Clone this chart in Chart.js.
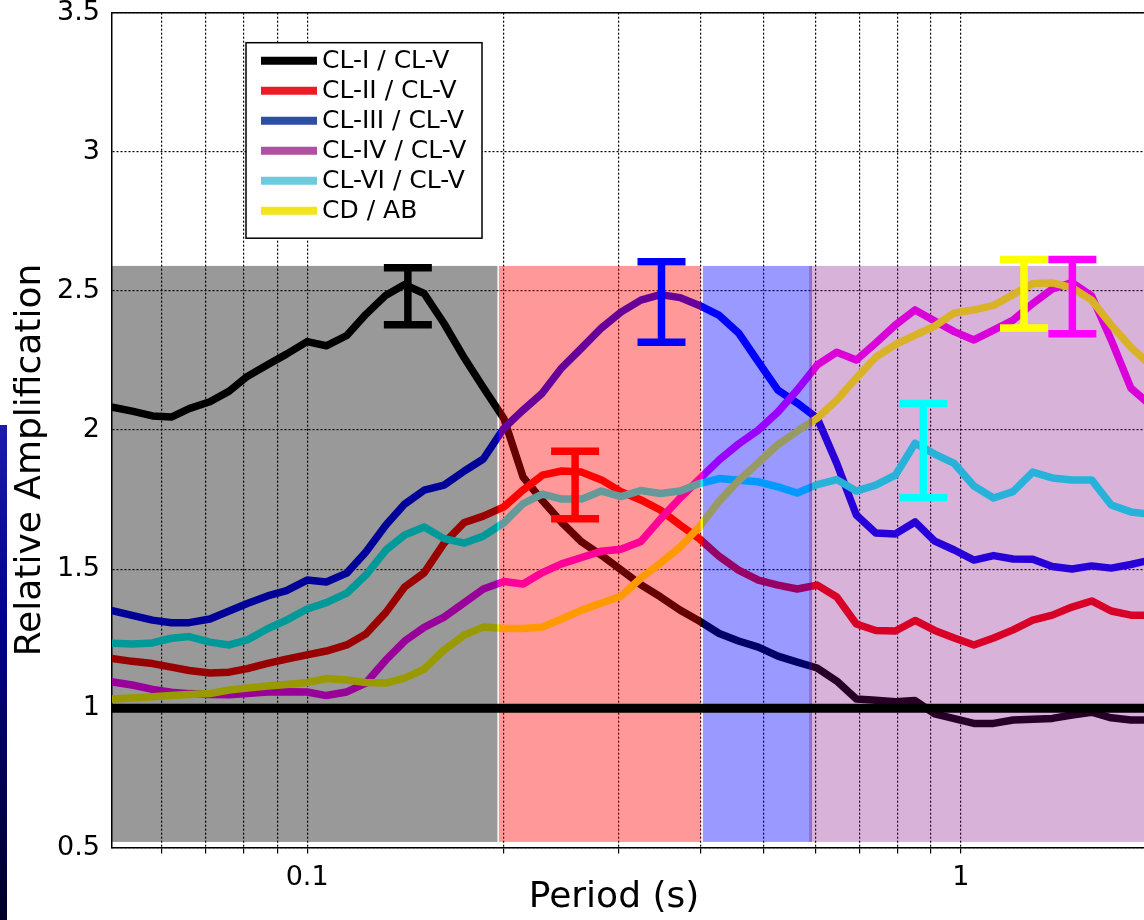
<!DOCTYPE html>
<html>
<head>
<meta charset="utf-8">
<title>Relative Amplification vs Period</title>
<script src="https://cdn.jsdelivr.net/npm/chart.js@4.4.1/dist/chart.umd.min.js"></script>
<style>
  html, body { margin: 0; padding: 0; background: #ffffff; overflow: hidden; }
  #wrap { position: relative; width: 1144px; height: 920px; }
  canvas { display: block; }
</style>
</head>
<body>
<div id="wrap"><canvas id="chart" width="1144" height="920"></canvas></div>
<script>
// ---- data -------------------------------------------------------------
// Periods (s), log-spaced
const periods = [0.050, 0.054, 0.058, 0.062, 0.066, 0.071, 0.076, 0.081, 0.087, 0.093,
                 0.100, 0.107, 0.115, 0.123, 0.132, 0.141, 0.151, 0.162, 0.174, 0.186,
                 0.200, 0.214, 0.229, 0.245, 0.263, 0.282, 0.302, 0.324, 0.347, 0.372,
                 0.398, 0.427, 0.457, 0.490, 0.525, 0.562, 0.603, 0.646, 0.692, 0.741,
                 0.794, 0.851, 0.912, 0.977, 1.047, 1.122, 1.202, 1.288, 1.380, 1.479,
                 1.585, 1.698, 1.820, 1.950];

const seriesLabels = ['CL-I / CL-V', 'CL-II / CL-V', 'CL-III / CL-V', 'CL-IV / CL-V', 'CL-VI / CL-V', 'CD / AB'];

const clI = [2.084, 2.068, 2.051, 2.047, 2.077, 2.102, 2.140, 2.193, 2.235, 2.273,
             2.318, 2.303, 2.340, 2.416, 2.485, 2.523, 2.491, 2.383, 2.259, 2.153,
             2.041, 1.831, 1.747, 1.669, 1.598, 1.550, 1.498, 1.444, 1.401, 1.353,
             1.314, 1.269, 1.242, 1.220, 1.188, 1.166, 1.145, 1.098, 1.034, 1.029,
             1.024, 1.028, 0.980, 0.963, 0.946, 0.946, 0.958, 0.961, 0.964, 0.976,
             0.986, 0.966, 0.958, 0.958];

const clII = [1.180, 1.169, 1.161, 1.148, 1.136, 1.127, 1.130, 1.143, 1.162, 1.177,
              1.192, 1.206, 1.228, 1.267, 1.345, 1.436, 1.487, 1.594, 1.668, 1.691,
              1.724, 1.785, 1.838, 1.853, 1.849, 1.821, 1.779, 1.749, 1.713, 1.659,
              1.610, 1.546, 1.497, 1.461, 1.443, 1.429, 1.443, 1.400, 1.303, 1.280,
              1.278, 1.316, 1.280, 1.253, 1.228, 1.253, 1.282, 1.317, 1.335, 1.364,
              1.386, 1.350, 1.335, 1.335];

const clIII = [1.353, 1.334, 1.317, 1.308, 1.308, 1.321, 1.350, 1.377, 1.404, 1.423,
               1.461, 1.454, 1.486, 1.562, 1.659, 1.734, 1.784, 1.802, 1.853, 1.896,
               2.007, 2.072, 2.133, 2.223, 2.295, 2.367, 2.424, 2.467, 2.487, 2.476,
               2.448, 2.412, 2.349, 2.245, 2.144, 2.097, 2.043, 1.880, 1.695, 1.630,
               1.627, 1.670, 1.601, 1.569, 1.533, 1.549, 1.537, 1.536, 1.510, 1.501,
               1.512, 1.504, 1.517, 1.533];

const clIV = [1.096, 1.084, 1.068, 1.058, 1.053, 1.050, 1.049, 1.053, 1.059, 1.060,
              1.059, 1.046, 1.059, 1.091, 1.174, 1.242, 1.291, 1.328, 1.380, 1.429,
              1.456, 1.447, 1.488, 1.519, 1.542, 1.565, 1.572, 1.600, 1.680, 1.756,
              1.824, 1.893, 1.950, 2.000, 2.065, 2.144, 2.234, 2.280, 2.252, 2.313,
              2.378, 2.432, 2.392, 2.354, 2.324, 2.359, 2.395, 2.455, 2.507, 2.530,
              2.482, 2.324, 2.151, 2.090];

const clVI = [1.234, 1.231, 1.235, 1.252, 1.258, 1.238, 1.228, 1.246, 1.286, 1.317,
              1.357, 1.380, 1.414, 1.479, 1.569, 1.623, 1.652, 1.610, 1.594, 1.619,
              1.667, 1.736, 1.770, 1.752, 1.752, 1.781, 1.761, 1.783, 1.772, 1.781,
              1.808, 1.826, 1.820, 1.814, 1.796, 1.774, 1.804, 1.822, 1.781, 1.802,
              1.838, 1.953, 1.914, 1.880, 1.799, 1.756, 1.779, 1.849, 1.828, 1.821,
              1.821, 1.731, 1.706, 1.698];

const cdAb = [1.033, 1.037, 1.042, 1.046, 1.050, 1.053, 1.066, 1.073, 1.080, 1.086,
              1.093, 1.107, 1.102, 1.093, 1.091, 1.109, 1.141, 1.210, 1.264, 1.292,
              1.287, 1.287, 1.292, 1.321, 1.353, 1.379, 1.403, 1.468, 1.522, 1.580,
              1.652, 1.745, 1.818, 1.883, 1.948, 1.996, 2.043, 2.108, 2.187, 2.262,
              2.307, 2.341, 2.374, 2.421, 2.432, 2.448, 2.487, 2.527, 2.529, 2.512,
              2.467, 2.378, 2.298, 2.234];

// Peak spread per ratio: period, lower and upper limit
const errPeriods = [0.1426, 0.257, 0.3484, 0.876, 1.249, 1.481];
const errLow     = [2.379, 1.681, 2.316, 1.757, 2.367, 2.346];
const errHigh    = [2.583, 1.924, 2.605, 2.096, 2.613, 2.613];

// Period bands (s) and their amplitude span
const bandStart = [0.0503, 0.1965, 0.403, 0.586];
const bandEnd   = [0.1955, 0.400, 0.592, 2.5];
const bandLow = 0.52;
const bandHigh = 2.59;

// Reference level
const baselineValue = 1;

// Axis ticks
const xGridValues = [0.06, 0.07, 0.08, 0.09, 0.1, 0.2, 0.3, 0.4, 0.5, 0.6, 0.7, 0.8, 0.9, 1];
const xTickLabels = ['', '', '', '', '0.1', '', '', '', '', '', '', '', '', '1'];
const yTickValues = [0.5, 1, 1.5, 2, 2.5, 3, 3.5];
const yTickLabels = ['0.5', '1', '1.5', '2', '2.5', '3', '3.5'];

const xTitle = 'Period (s)';
const yTitle = 'Relative Amplification';

// ---- styles -----------------------------------------------------------
const curveColors  = ['#000000', '#ff0000', '#0000ff', '#ff00ff', '#00ffff', '#ffff00'];
const legendColors = ['#000000', '#ed1c24', '#2e4ea2', '#b24fa0', '#6ccadb', '#f3e51b'];
const errColors    = ['#000000', '#ff0000', '#0000ff', '#00ffff', '#ffff00', '#ff00ff'];
const bandColors   = ['rgba(0,0,0,0.40)', 'rgba(255,0,0,0.40)', 'rgba(0,0,255,0.40)', 'rgba(128,0,128,0.30)'];
const FONT = 'DejaVu Sans';

// ---- datasets ---------------------------------------------------------
const curveSeries = [clI, clII, clIII, clIV, clVI, cdAb];
const datasets = curveSeries.map((vals, i) => ({
  label: seriesLabels[i],
  data: periods.map((p, k) => ({ x: p, y: vals[k] })),
  borderColor: curveColors[i],
  backgroundColor: curveColors[i],
  borderWidth: 7.5,
  borderJoinStyle: 'round',
  borderCapStyle: 'butt',
  pointRadius: 0,
  tension: 0,
  fill: false,
  clip: 0,
  order: 20 - i
}));

const baselineIndex = datasets.length;
datasets.push({
  label: 'baseline',
  data: [{ x: periods[0], y: baselineValue }, { x: periods[periods.length - 1], y: baselineValue }],
  borderColor: '#000000',
  borderWidth: 9,
  borderCapStyle: 'butt',
  pointRadius: 0,
  fill: false,
  clip: 0,
  order: 5
});

errPeriods.forEach((p, i) => {
  datasets.push({
    label: 'spread ' + seriesLabels[i],
    data: [{ x: p, y: errLow[i] }, { x: p, y: errHigh[i] }],
    borderColor: errColors[i],
    backgroundColor: errColors[i],
    borderWidth: 7.5,
    borderCapStyle: 'butt',
    pointStyle: 'line',
    pointRadius: 24,
    pointBorderWidth: 7.5,
    pointBorderColor: errColors[i],
    pointBackgroundColor: errColors[i],
    fill: false,
    clip: false,
    order: 1
  });
});

// Scales keep no extra edge padding for their labels
const noEdgePadding = (s) => {
  s.paddingLeft = 0; s.paddingRight = 0; s.paddingTop = 0; s.paddingBottom = 0;
};

// ---- plugins ----------------------------------------------------------
// Slide edge decoration on the far left
const edgePlugin = {
  id: 'edge',
  beforeDraw(chart) {
    const ctx = chart.ctx;
    ctx.save();
    const g = ctx.createLinearGradient(0, 425, 0, 920);
    g.addColorStop(0, '#1c1ca8');
    g.addColorStop(0.4, '#00008a');
    g.addColorStop(1, '#000028');
    ctx.fillStyle = g;
    ctx.fillRect(0, 425, 7, 495);
    ctx.restore();
  }
};

// Translucent period bands, laid over the curves
const bandPlugin = {
  id: 'bands',
  beforeDatasetDraw(chart, args) {
    if (args.index !== baselineIndex) return;
    const { ctx, chartArea: a, scales: { x, y } } = chart;
    ctx.save();
    ctx.beginPath();
    ctx.rect(a.left, a.top, a.right - a.left, a.bottom - a.top);
    ctx.clip();
    const yTop = y.getPixelForValue(bandHigh);
    const yBot = y.getPixelForValue(bandLow);
    bandStart.forEach((s, i) => {
      const x0 = x.getPixelForValue(s);
      const x1 = x.getPixelForValue(bandEnd[i]);
      ctx.fillStyle = bandColors[i];
      ctx.fillRect(x0, yTop, x1 - x0, yBot - yTop);
    });
    ctx.restore();
  }
};

// Top frame line, axis titles and boxed legend
const framePlugin = {
  id: 'frame',
  afterDraw(chart) {
    const { ctx, chartArea: a } = chart;
    ctx.save();
    ctx.strokeStyle = '#000';
    ctx.lineWidth = 1.5;
    ctx.beginPath();
    ctx.moveTo(a.left, a.top);
    ctx.lineTo(a.right, a.top);
    ctx.stroke();

    ctx.fillStyle = '#000';
    ctx.font = '36px "' + FONT + '"';
    ctx.textAlign = 'center';
    ctx.textBaseline = 'middle';
    ctx.fillText(xTitle, 614, 898);
    ctx.save();
    ctx.translate(31, 460);
    ctx.rotate(-Math.PI / 2);
    ctx.fillText(yTitle, 0, 0);
    ctx.restore();

    // legend box
    const L = 246, T = 42.7, W = 236, H = 195.5;
    ctx.fillStyle = '#fff';
    ctx.fillRect(L, T, W, H);
    ctx.strokeStyle = '#000';
    ctx.lineWidth = 1.5;
    ctx.strokeRect(L, T, W, H);
    ctx.font = '25px "' + FONT + '"';
    ctx.textAlign = 'left';
    ctx.textBaseline = 'middle';
    seriesLabels.forEach((lab, i) => {
      const cy = T + 18 + 30 * i;
      ctx.strokeStyle = legendColors[i];
      ctx.lineWidth = 8;
      ctx.beginPath();
      ctx.moveTo(261, cy);
      ctx.lineTo(317, cy);
      ctx.stroke();
      ctx.fillStyle = '#000';
      ctx.fillText(lab, 322, cy + 1);
    });
    ctx.restore();
  }
};

// ---- chart ------------------------------------------------------------
new Chart(document.getElementById('chart'), {
  type: 'line',
  data: { datasets },
  options: {
    responsive: false,
    devicePixelRatio: 1,
    animation: false,
    events: [],
    layout: { autoPadding: false, padding: { top: 12.7, right: 0, bottom: 0, left: 0 } },
    plugins: { legend: { display: false }, tooltip: { enabled: false }, title: { display: false } },
    scales: {
      x: {
        type: 'logarithmic',
        min: 0.0503,
        max: 1.906,
        afterBuildTicks: (s) => { s.ticks = xGridValues.map(v => ({ value: v })); },
        afterFit: (s) => { s.height = 72.5; noEdgePadding(s); },
        ticks: {
          autoSkip: false, maxRotation: 0, minRotation: 0, padding: 8, color: '#000',
          font: { family: FONT, size: 27 },
          callback: (v, i) => xTickLabels[i]
        },
        grid: { color: '#000', lineWidth: 1.2, drawTicks: true, tickLength: 6, tickColor: '#000', tickWidth: 1.2 },
        border: { display: true, color: '#000', width: 1.5, dash: [2, 2] }
      },
      y: {
        type: 'linear',
        min: 0.5,
        max: 3.5,
        afterBuildTicks: (s) => { s.ticks = yTickValues.map(v => ({ value: v })); },
        afterFit: (s) => { s.width = 112; noEdgePadding(s); },
        ticks: {
          padding: 12, color: '#000',
          font: { family: FONT, size: 27 },
          callback: (v, i) => yTickLabels[i]
        },
        grid: { color: '#000', lineWidth: 1.2, drawTicks: false },
        border: { display: true, color: '#000', width: 1.5, dash: [2, 2] }
      }
    }
  },
  plugins: [edgePlugin, bandPlugin, framePlugin]
});
</script>
</body>
</html>
